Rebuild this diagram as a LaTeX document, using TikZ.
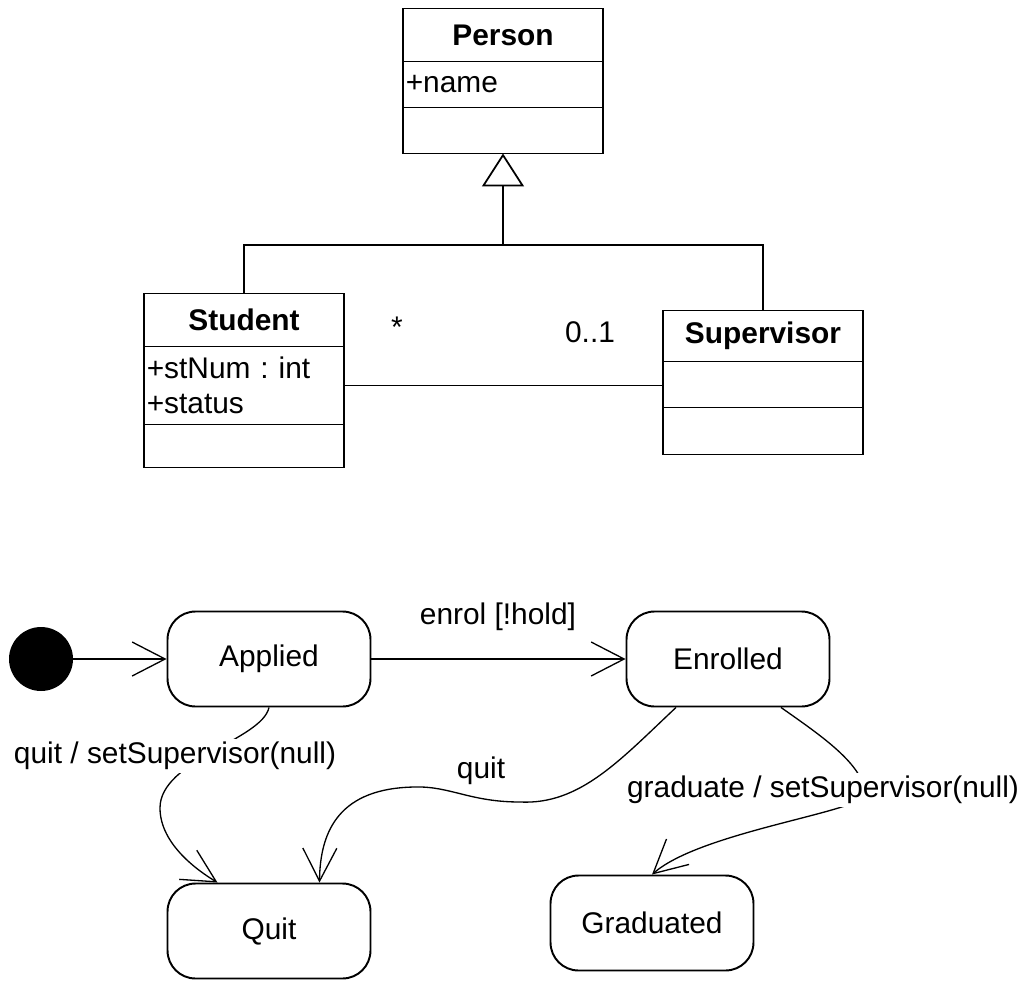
\documentclass[tikz,border=0pt]{standalone}
\usepackage{fontspec}
\setmainfont{Liberation Sans}
\usetikzlibrary{arrows.meta,positioning}

\begin{document}
\begin{tikzpicture}[
    x=0.02cm,y=-0.02cm,
    node distance=0pt,
    cls/.style={rectangle,draw,line width=1.1pt,minimum width=4cm,inner sep=0pt,outer sep=0pt,font=\fontsize{17}{20}\selectfont},
    ctitle/.style={cls,minimum height=1.06cm,font=\fontsize{17}{20}\selectfont\bfseries},
    cbox/.style={cls,minimum height=0.92cm,text width=3.89cm,inner xsep=0.055cm,align=left},
    stbox/.style={rectangle,draw,line width=1.1pt,rounded corners=0.56cm,minimum width=4.06cm,minimum height=1.9cm,font=\fontsize{17}{20}\selectfont},
    initdot/.style={circle,fill=black,minimum size=1.28cm,inner sep=0pt},
    lbl/.style={font=\fontsize{17}{20}\selectfont,inner sep=1pt},
    conn/.style={line width=0.75pt},
    trans/.style={line width=0.75pt,-{Straight Barb[length=0.66cm,width=0.68cm]}}
]
    \useasboundingbox (0,0) rectangle (1027,980);

    \node[ctitle] (p1) at (503,35) {Person};
    \node[cbox,below=of p1] (p2) {+name};
    \node[cbox,below=of p2] (p3) {};

    \node[ctitle] (st1) at (244,320) {Student};
    \node[cbox,below=of st1,minimum height=1.56cm] (st2) {+stNum :\ int\\+status};
    \node[cbox,below=of st2,minimum height=0.86cm] (st3) {};

    \node[ctitle,minimum height=1.02cm] (su1) at (763,336) {Supervisor};
    \node[cbox,below=of su1] (su2) {};
    \node[cbox,below=of su2,minimum height=0.94cm] (su3) {};

    \coordinate (gj) at (503,245);
    \draw[conn,-{Triangle[open,length=0.66cm,width=0.84cm,line width=1pt]}] (gj) -- (p3.south);
    \draw[conn] (st1.north) |- (gj) -| (su1.north);
    \draw[conn] (st2.east) -- (st2.east -| su2.west);

    \node[lbl] (m1) at (397,327) {*};
    \node[lbl] (m2) at (590,332) {0..1};

    \node[initdot] (init) at (41,659) {};
    \node[stbox] (app) at (269,659) {Applied};
    \node[stbox] (enr) at (728,659) {Enrolled};
    \node[stbox] (qt) at (269,931) {Quit};
    \node[stbox] (grad) at (652,923) {Graduated};

    \draw[trans] (init) -- (app);
    \draw[trans] (app) -- (enr);
    \draw[trans] (app.south) .. controls (262,740) and (160,760) .. (160,808) .. controls (160,845) and (200,872) .. ([xshift=-1.03cm]qt.north);
    \draw[trans] ([xshift=-1.04cm]enr.south) .. controls (620,760) and (580,805) .. (520,802) .. controls (470,802) and (450,786) .. (415,787) .. controls (340,788) and (320,830) .. ([xshift=1.01cm]qt.north);
    \draw[trans] ([xshift=1.06cm]enr.south) .. controls (820,735) and (865,765) .. (865,795) .. controls (860,812) and (700,832) .. (grad.north);

    \node[lbl] (l1) at (498,617) {enrol [!hold]};
    \node[lbl,fill=white,inner ysep=2pt] (l2) at (175,756) {quit / setSupervisor(null)};
    \node[lbl] (l3) at (481,771) {quit};
    \node[lbl,fill=white,inner ysep=2pt] (l4) at (823,790) {graduate / setSupervisor(null)};
\end{tikzpicture}
\end{document}
